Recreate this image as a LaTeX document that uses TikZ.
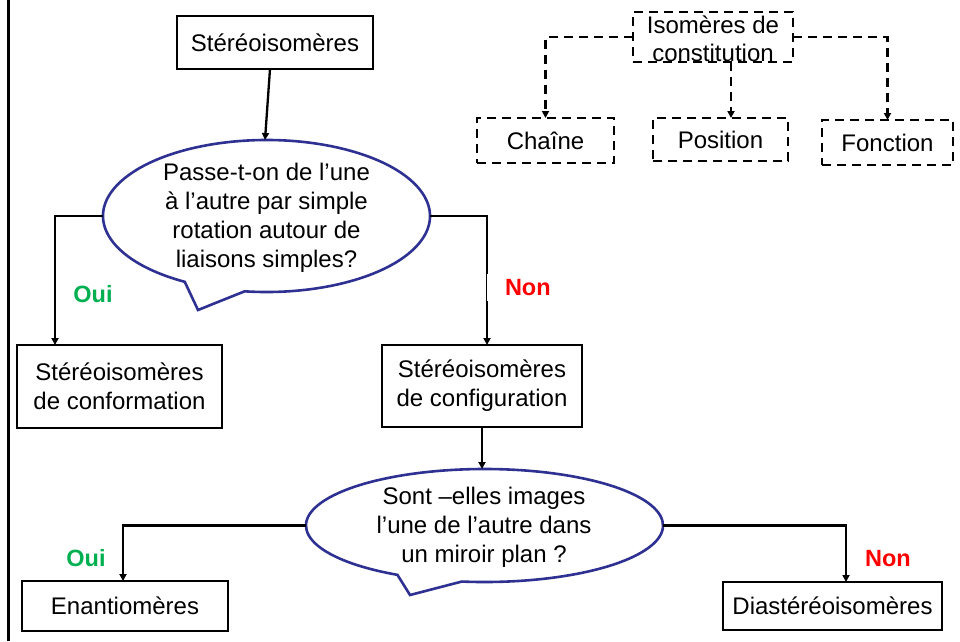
\documentclass[tikz,border=0pt]{standalone}
\usepackage{fontspec}
\setmainfont{Liberation Sans}
\usetikzlibrary{arrows.meta,shapes.geometric}
\definecolor{bubbleblue}{RGB}{46,49,146}
\definecolor{ouigreen}{RGB}{0,176,80}
\definecolor{nonred}{RGB}{255,0,0}
\begin{document}
\begin{tikzpicture}[x=1pt,y=-1pt,
  every node/.style={font=\fontsize{24}{29}\selectfont, inner sep=0pt, outer sep=0pt},
  box/.style={draw, line width=2.8pt, align=center},
  dbox/.style={draw, line width=2.8pt, dash pattern=on 9pt off 6pt, align=center},
  link/.style={line width=2.3pt, -{Triangle[length=7pt,width=7pt]}},
  dlink/.style={line width=2.6pt, dash pattern=on 9pt off 6pt, -{Triangle[length=7pt,width=7pt]}},
  bubble/.style={draw=bubbleblue, line width=2.6pt, fill=white, line join=miter},
  qshape/.style={ellipse, draw=none},
  ans/.style={font=\fontsize{23.5}{28}\selectfont\bfseries},
]
\useasboundingbox (0,0) rectangle (960,641);

% frame line on the left
\draw[line width=3pt] (8.5,0) -- (8.5,641);

% main boxes
\node[box, minimum width=196, minimum height=53] (st) at (275,42.5) {Stéréoisomères};
\node[box, minimum width=205, minimum height=83] (conf) at (119.5,386.5) {Stéréoisomères\\de conformation};
\node[box, minimum width=200, minimum height=82] (config) at (482,386) {Stéréoisomères\\de configuration};
\node[box, minimum width=206, minimum height=50] (enan) at (125,606) {Enantiomères};
\node[box, minimum width=219, minimum height=48] (dia) at (832.5,606) {Diastéréoisomères};

% question bubbles (anchors only; outlines drawn below)
\node[qshape, minimum width=327, minimum height=152] (q1) at (266.5,216) {};
\node[qshape, minimum width=357, minimum height=113] (q2) at (484.5,525.5) {};

\draw[bubble] ([shift={(120:163.5 and 76)}]q1.center)
  arc[start angle=120, end angle=457.7, x radius=163.5, y radius=76]
  -- (198,310) -- cycle;
\draw[bubble] ([shift={(119.2:178.5 and 56.5)}]q2.center)
  arc[start angle=119.2, end angle=457.3, x radius=178.5, y radius=56.5]
  -- (410,595) -- cycle;

\node[align=center] (q1text) at (266.5,218) {Passe-t-on de l’une\\à l’autre par simple\\rotation autour de\\liaisons simples?};
\node[align=center] (q2text) at (484,527.5) {Sont –elles images\\l’une de l’autre dans\\un miroir plan ?};

% bends of the connectors
\coordinate (bendA) at (55,216);
\coordinate (bendB) at (487,216);
\coordinate (bendC) at (846,525.5);
\coordinate (bendD) at (123,525.5);

\draw[link] ([xshift=-5pt]st.south) -- ([xshift=-1.5pt]q1.north);
\draw[link] (q1.west) -- (bendA) -- (bendA |- conf.north);
\draw[link] (q1.east) -- (bendB) -- (bendB |- config.north);
\draw[link] (config.south) -- (config.south |- q2.north);
\draw[link] (q2.west) -- (bendD) -- (bendD |- enan.north);
\draw[link] (q2.east) -- (bendC) -- (bendC |- dia.north);

% answers
\node[ans, text=ouigreen] (oui1) at (93,294) {Oui};
\node[ans, text=nonred, fill=white, anchor=west, inner ysep=5.25pt] (non1) at (487,287.5) {\hspace{18pt}Non};
\node[ans, text=ouigreen] (oui2) at (86,558) {Oui};
\node[ans, text=nonred] (non2) at (888,559) {Non};

% constitutional isomers
\node[dbox, minimum width=160, minimum height=50] (iso) at (713,37) {\rule{0pt}{21pt}Isomères de\\[-1pt]constitution};
\node[dbox, minimum width=137, minimum height=45] (chaine) at (545.5,140.5) {Chaîne};
\node[dbox, minimum width=135, minimum height=43] (pos) at (720.5,139.5) {Position};
\node[dbox, minimum width=131, minimum height=45] (fonc) at (887.5,142.5) {Fonction};

\draw[dlink] (iso.west) -| (chaine.north);
\draw[dlink] ([xshift=18pt]iso.south) -- ([xshift=18pt]iso.south |- pos.north);
\draw[dlink] (iso.east) -| (fonc.north);
\end{tikzpicture}
\end{document}
